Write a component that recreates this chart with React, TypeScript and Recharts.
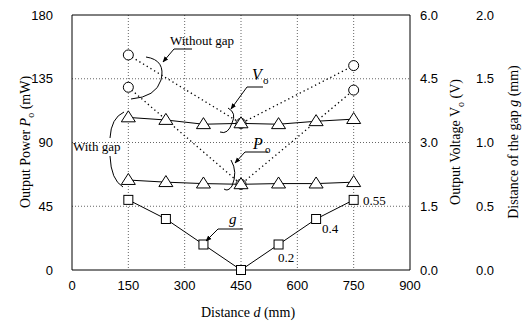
import React from 'react';
import {
  ComposedChart,
  Line,
  XAxis,
  YAxis,
  CartesianGrid,
  ReferenceLine,
} from 'recharts';

// distance d (mm)
const distance = [150, 250, 350, 450, 550, 650, 750];
// with gap
const poWithGap = [63.5, 62, 61, 60.5, 61, 61, 62]; // mW
const voWithGap = [3.59, 3.53, 3.43, 3.45, 3.43, 3.5, 3.55]; // V
const gapG = [0.55, 0.4, 0.2, 0, 0.2, 0.4, 0.55]; // mm
// without gap (only measured at 150, 450, 750)
const poWithoutGap = [129, null, null, 60.5, null, null, 127];
const voWithoutGap = [5.06, null, null, 3.45, null, null, 4.81];

const xTicks = [0, 150, 300, 450, 600, 750, 900];
const pTicks = [0, 45, 90, 135, 180];
const vTicks = [0, 1.5, 3, 4.5, 6];
const gTicks = [0, 0.5, 1, 1.5, 2];

const data = distance.map((d, i) => ({
  d,
  poGap: poWithGap[i],
  voGap: voWithGap[i],
  g: gapG[i],
  poNo: poWithoutGap[i],
  voNo: voWithoutGap[i],
}));

const tickFont = { fontFamily: 'Liberation Sans, Arial, sans-serif', fontSize: 13, fill: '#000' };
const serif = 'Liberation Serif, Times New Roman, serif';

const CircleDot = (props: any) => {
  const { cx, cy, value, index } = props;
  if (value == null || cx == null || cy == null) return <g key={'c' + index} />;
  return <circle key={'c' + index} cx={cx} cy={cy} r={5} fill="#fff" stroke="#000" strokeWidth={1} />;
};

const TriangleDot = (props: any) => {
  const { cx, cy, index } = props;
  if (cx == null || cy == null) return <g key={'t' + index} />;
  const w = 7, h = 11;
  return (
    <path
      key={'t' + index}
      d={`M${cx},${cy - h * 0.6} L${cx + w},${cy + h * 0.4} L${cx - w},${cy + h * 0.4} Z`}
      fill="#fff"
      stroke="#000"
      strokeWidth={1}
    />
  );
};

const SquareDot = (props: any) => {
  const { cx, cy, index } = props;
  if (cx == null || cy == null) return <g key={'s' + index} />;
  return <rect key={'s' + index} x={cx - 4.5} y={cy - 4.5} width={9} height={9} fill="#fff" stroke="#000" strokeWidth={1} />;
};

const Overlay = () => (
  <svg
    width={527}
    height={323}
    style={{ position: 'absolute', left: 0, top: 0, pointerEvents: 'none' }}
  >
    <defs>
      <marker id="arr" viewBox="0 0 10 10" refX="9" refY="5" markerWidth="6" markerHeight="6" orient="auto">
        <path d="M0,1 L10,5 L0,9 Z" fill="#000" />
      </marker>
    </defs>
    <g fill="none" stroke="#000" strokeWidth={1}>
      {/* Without gap */}
      <path d="M146,57 Q166,60 161,80 Q156,97 131,99" />
      <path d="M192,49 L174,49 L163,62" markerEnd="url(#arr)" />
      {/* With gap */}
      <path d="M124,112 Q111,118 110,138" />
      <path d="M110,156 Q111,180 123,187" />
      {/* Vo */}
      <path d="M263,87 L247,87 L231,109" markerEnd="url(#arr)" />
      <path d="M228,108 Q237,113 232,123 Q228,135 220,132" />
      {/* Po */}
      <path d="M268,152 L245,152 L235,163" markerEnd="url(#arr)" />
      <path d="M231,160 Q238,172 232,186 Q228,192 224,189" />
      {/* g */}
      <path d="M243,229 L218,229 L206,241" markerEnd="url(#arr)" />
    </g>
    <g fontFamily={serif} fill="#000">
      <text x={170} y={45} fontSize={13}>Without gap</text>
      <text x={73} y={151} fontSize={13}>With gap</text>
      <text x={252} y={80} fontSize={16} fontStyle="italic">V</text>
      <text x={263} y={84} fontSize={11}>o</text>
      <text x={253} y={149} fontSize={16} fontStyle="italic">P</text>
      <text x={265} y={153} fontSize={11}>o</text>
      <text x={229} y={224} fontSize={15} fontStyle="italic">g</text>
      <text x={363} y={205} fontSize={13}>0.55</text>
      <text x={322} y={233} fontSize={13}>0.4</text>
      <text x={278} y={262} fontSize={13}>0.2</text>

      <text x={248} y={317} fontSize={14} textAnchor="middle">
        Distance <tspan fontStyle="italic">d</tspan> (mm)
      </text>
      <text transform="translate(30,142) rotate(-90)" fontSize={14} textAnchor="middle">
        Output Power <tspan fontStyle="italic">P</tspan>
        <tspan fontSize={10} dy={4}>o</tspan>
        <tspan dy={-4}> (mW)</tspan>
      </text>
      <text transform="translate(460,142) rotate(-90)" fontSize={14} textAnchor="middle">
        Output Voltage V<tspan fontSize={10} dy={4}>o</tspan>
        <tspan dy={-4}> (V)</tspan>
      </text>
      <text transform="translate(518,142) rotate(-90)" fontSize={14} textAnchor="middle">
        Distance of the gap <tspan fontStyle="italic">g</tspan> (mm)
      </text>
    </g>
  </svg>
);

export default function App() {
  return (
    <div style={{ position: 'absolute', left: 0, top: 0, width: 527, height: 323, background: '#fff' }}>
      <ComposedChart width={527} height={323} data={data} margin={{ top: 15, right: 0, bottom: 0, left: 0 }}>
        <CartesianGrid
          yAxisId="p"
          stroke="#666"
          strokeDasharray="1 2"
          horizontalValues={[45, 90, 135]}
          verticalValues={[150, 300, 450, 600, 750]}
        />
        <XAxis
          dataKey="d"
          type="number"
          domain={[0, 900]}
          ticks={xTicks}
          height={53}
          tickSize={0}
          tickMargin={11}
          tick={tickFont}
          stroke="#000"
          interval={0}
        />
        <YAxis
          yAxisId="p"
          orientation="left"
          domain={[0, 180]}
          ticks={pTicks}
          width={72}
          tickSize={0}
          tickMargin={19}
          tick={tickFont}
          stroke="#000"
          interval={0}
        />
        <YAxis
          yAxisId="right1"
          orientation="right"
          domain={[0, 6]}
          ticks={vTicks}
          width={60}
          tickSize={0}
          tickMargin={10}
          tick={tickFont}
          tickFormatter={(v: number) => v.toFixed(1)}
          stroke="#000"
          interval={0}
        />
        <YAxis
          yAxisId="right2"
          orientation="right"
          domain={[0, 2]}
          ticks={gTicks}
          width={57}
          tickSize={0}
          tickMargin={6}
          tick={tickFont}
          tickFormatter={(v: number) => v.toFixed(1)}
          axisLine={false}
          interval={0}
        />
        <ReferenceLine yAxisId="p" y={180} stroke="#000" />
        <Line yAxisId="p" dataKey="poNo" stroke="#000" strokeWidth={1.3} strokeDasharray="1.3 3" connectNulls dot={CircleDot} isAnimationActive={false} />
        <Line yAxisId="right1" dataKey="voNo" stroke="#000" strokeWidth={1.3} strokeDasharray="1.3 3" connectNulls dot={CircleDot} isAnimationActive={false} />
        <Line yAxisId="p" dataKey="poGap" stroke="#000" strokeWidth={1} dot={TriangleDot} isAnimationActive={false} />
        <Line yAxisId="right1" dataKey="voGap" stroke="#000" strokeWidth={1} dot={TriangleDot} isAnimationActive={false} />
        <Line yAxisId="right2" dataKey="g" stroke="#000" strokeWidth={1} dot={SquareDot} isAnimationActive={false} />
      </ComposedChart>
      <Overlay />
    </div>
  );
}
